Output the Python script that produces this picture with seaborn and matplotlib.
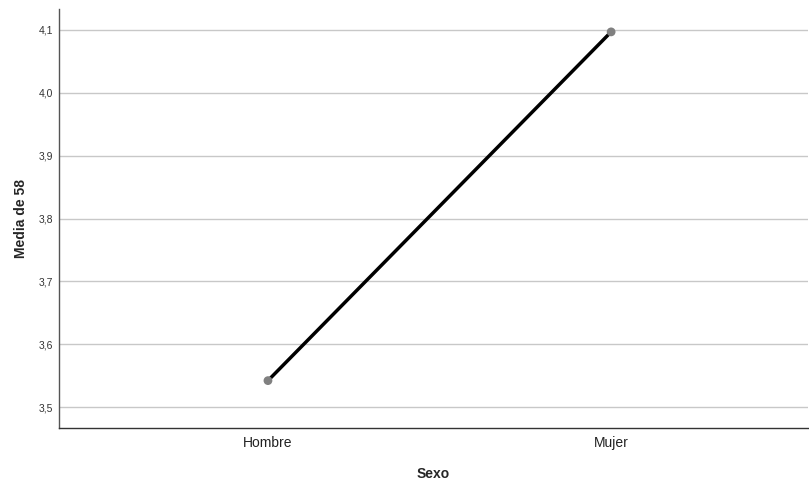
import pandas as pd
import seaborn as sns
import matplotlib.pyplot as plt
from matplotlib.ticker import FuncFormatter

# Medias por sexo
sexo = ['Hombre', 'Mujer']
media = [3.542, 4.097]

df = pd.DataFrame({'Sexo': sexo, 'Media de 58': media})

sns.set_style('white')
plt.rcParams['font.family'] = ['Liberation Sans', 'DejaVu Sans']

fig = plt.figure(figsize=(8.09, 4.84), dpi=100)
ax = fig.add_axes([0.0729, 0.1157, 0.926, 0.8657])

sns.lineplot(data=df, x='Sexo', y='Media de 58', color='black', linewidth=2.5, ax=ax, zorder=3)
sns.scatterplot(data=df, x='Sexo', y='Media de 58', color='#808080', s=40, edgecolor='none', ax=ax, zorder=4)

ax.set_xlim(-0.609, 1.574)
ax.set_ylim(3.4666, 4.1334)
ax.set_yticks([3.5, 3.6, 3.7, 3.8, 3.9, 4.0, 4.1])
ax.yaxis.set_major_formatter(FuncFormatter(lambda v, p: f'{v:.1f}'.replace('.', ',')))
ax.yaxis.grid(True, color='#c8c8c8', linewidth=1)
ax.set_axisbelow(True)

for s in ['top', 'right']:
    ax.spines[s].set_visible(False)
ax.spines['left'].set_color('#555555')
ax.spines['bottom'].set_color('#333333')
ax.spines['left'].set_linewidth(1)
ax.spines['bottom'].set_linewidth(1)

ax.tick_params(axis='y', labelsize=7.5, length=0, pad=4, colors='#333333')
ax.tick_params(axis='x', labelsize=10, length=0, pad=6, colors='#222222')

ax.set_xlabel('Sexo', fontsize=10, fontweight='bold', labelpad=12)
ax.set_ylabel('Media de 58', fontsize=10, fontweight='bold', labelpad=8)

plt.savefig('out.png', dpi=100)
plt.close()
